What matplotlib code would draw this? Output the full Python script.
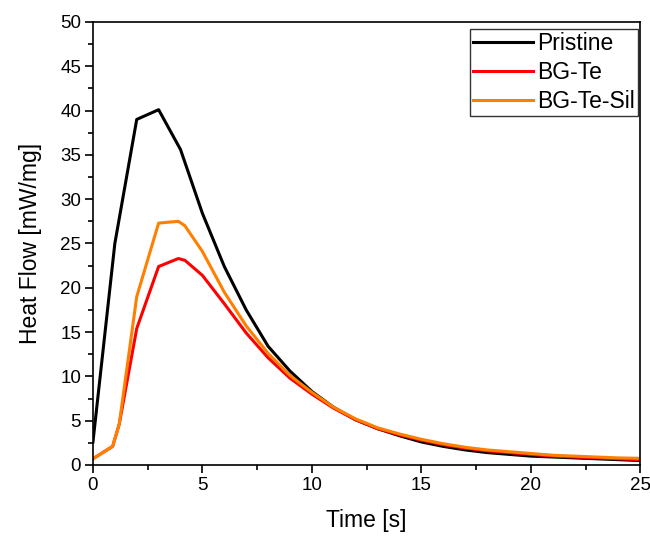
import matplotlib
matplotlib.use("Agg")
import matplotlib.pyplot as plt
from matplotlib.ticker import MultipleLocator

plt.rcParams['font.family'] = ['Liberation Sans', 'DejaVu Sans']

t_pristine = [0, 1, 2, 3, 4, 5, 6, 7, 8, 9, 10, 11, 12, 13, 14, 15, 16, 17, 18, 19, 20, 21, 22, 23, 24, 25]
pristine = [2.6, 25.0, 39.0, 40.1, 35.6, 28.4, 22.4, 17.5, 13.4, 10.6, 8.3, 6.5, 5.1, 4.1, 3.3, 2.6, 2.1, 1.7, 1.4, 1.2, 1.0, 0.9, 0.8, 0.7, 0.6, 0.5]

t_bg = [0, 0.9, 1.2, 2, 3, 3.9, 4.2, 5, 6, 7, 8, 9, 10, 11, 12, 13, 14, 15, 16, 17, 18, 19, 20, 21, 22, 23, 24, 25]
bg_te = [0.7, 2.1, 4.6, 15.4, 22.4, 23.3, 23.1, 21.4, 18.2, 14.9, 12.1, 9.8, 8.0, 6.4, 5.1, 4.1, 3.4, 2.8, 2.3, 1.9, 1.6, 1.4, 1.2, 1.0, 0.9, 0.8, 0.7, 0.6]
bg_te_sil = [0.7, 2.1, 4.6, 19.0, 27.3, 27.5, 27.0, 24.1, 19.5, 15.7, 12.6, 10.1, 8.2, 6.5, 5.2, 4.2, 3.5, 2.9, 2.4, 2.0, 1.7, 1.5, 1.3, 1.1, 1.0, 0.9, 0.8, 0.75]

fig = plt.figure(figsize=(6.5, 5.36), dpi=100)
ax = fig.add_axes([0.143, 0.1325, 0.842, 0.8265])

ax.plot(t_pristine, pristine, color='black', lw=2.2, label='Pristine')
ax.plot(t_bg, bg_te, color='#ff0000', lw=2.2, label='BG-Te')
ax.plot(t_bg, bg_te_sil, color='#ff8000', lw=2.2, label='BG-Te-Sil')

ax.set_xlim(0, 25)
ax.set_ylim(0, 50)
ax.xaxis.set_major_locator(MultipleLocator(5))
ax.xaxis.set_minor_locator(MultipleLocator(2.5))
ax.yaxis.set_major_locator(MultipleLocator(5))
ax.yaxis.set_minor_locator(MultipleLocator(2.5))
ax.tick_params(which='major', direction='out', length=6, width=1.2, labelsize=13.5, pad=2.5)
ax.tick_params(which='minor', direction='out', length=3.5, width=1.2)
for s in ax.spines.values():
    s.set_linewidth(1.2)

ax.set_xlabel('Time [s]', fontsize=16.5, labelpad=11)
ax.set_ylabel('Heat Flow [mW/mg]', fontsize=16.5, labelpad=13)

leg = ax.legend(loc='upper right', bbox_to_anchor=(1.005, 0.995), fontsize=16.5, frameon=True,
                fancybox=False, edgecolor='black', handlelength=2.6, handletextpad=0.2,
                labelspacing=0.25, borderpad=0.15, borderaxespad=0.2)
leg.get_frame().set_linewidth(1.0)

fig.savefig('out.png', dpi=100)
